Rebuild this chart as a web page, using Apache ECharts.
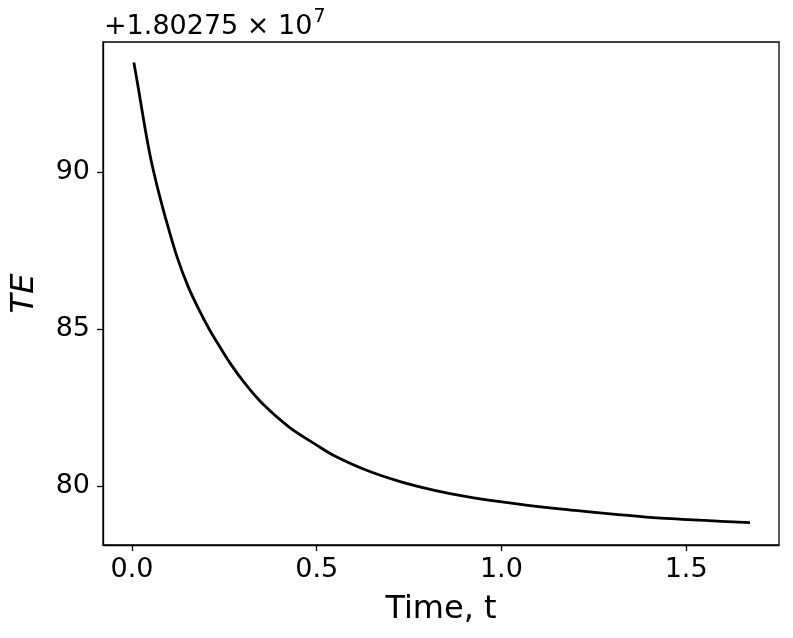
<!DOCTYPE html>
<html>
<head>
<meta charset="utf-8">
<script src="https://cdn.jsdelivr.net/npm/echarts@6/dist/echarts.min.js"></script>
<style>
html,body{margin:0;padding:0;background:#fff;}
#chart{width:793px;height:638px;}
</style>
</head>
<body>
<div id="chart"></div>
<script>
// Time values
var timeT = [0.005, 0.017, 0.028, 0.040, 0.053, 0.067, 0.079, 0.094, 0.121, 0.152, 0.184, 0.211, 0.229, 0.265, 0.31, 0.355, 0.428, 0.50, 0.545, 0.635, 0.726, 0.816, 0.906, 0.996, 1.132, 1.267, 1.402, 1.538, 1.673];
// TE values minus offset 1.80275e7
var teOffsetValues = [93.49, 92.68, 91.90, 91.08, 90.30, 89.60, 89.05, 88.40, 87.33, 86.35, 85.55, 84.95, 84.60, 83.92, 83.20, 82.60, 81.85, 81.30, 80.98, 80.50, 80.14, 79.87, 79.66, 79.50, 79.30, 79.14, 79.00, 78.91, 78.83];
var xTicks = [0.0, 0.5, 1.0, 1.5];
var yTicks = [80, 85, 90];
var offsetLabel = '+1.80275';

var chart = echarts.init(document.getElementById('chart'), null, {renderer: 'canvas'});
var font = 'DejaVu Sans';
var data = timeT.map(function (t, i) { return [t, teOffsetValues[i]]; });

chart.setOption({
  animation: false,
  backgroundColor: '#fff',
  grid: {left: 103, top: 42, right: 14, bottom: 93, containLabel: false, outerBoundsMode: 'none', show: true, borderColor: '#000', borderWidth: 1.3, backgroundColor: 'transparent'},
  xAxis: {
    type: 'value', min: -0.0785, max: 1.7515,
    name: 'Time, t', nameLocation: 'middle', nameGap: 49,
    nameTextStyle: {fontFamily: font, fontSize: 32, color: '#000'},
    axisLine: {show: true, onZero: false, lineStyle: {color: '#000', width: 1.3}},
    axisTick: {show: true, inside: false, length: 6, lineStyle: {color: '#000', width: 1.3}, customValues: xTicks},
    axisLabel: {fontFamily: font, fontSize: 27, color: '#000', margin: 11, customValues: xTicks,
      formatter: function (v) { return v.toFixed(1); }},
    splitLine: {show: false}
  },
  yAxis: {
    type: 'value', min: 78.12, max: 94.14,
    name: 'TE', nameLocation: 'middle', nameGap: 62, nameRotate: 90,
    nameTextStyle: {fontFamily: font, fontSize: 32, color: '#000', fontStyle: 'italic'},
    axisLine: {show: true, onZero: false, lineStyle: {color: '#000', width: 1.3}},
    axisTick: {show: true, inside: false, length: 6, lineStyle: {color: '#000', width: 1.3}, customValues: yTicks},
    axisLabel: {fontFamily: font, fontSize: 27, color: '#000', margin: 13, customValues: yTicks,
      formatter: function (v) { return String(Math.round(v)); }},
    splitLine: {show: false}
  },
  graphic: [{
    type: 'text', left: 104, top: 8,
    style: {
      text: '{a|' + offsetLabel + ' × 10}{s|7}',
      rich: {
        a: {fontFamily: font, fontSize: 27, fill: '#000', verticalAlign: 'bottom', lineHeight: 32},
        s: {fontFamily: font, fontSize: 19, fill: '#000', verticalAlign: 'top', lineHeight: 20, padding: [0,0,14,1]}
      }
    }
  }],
  series: [{
    type: 'line', data: data, showSymbol: false, smooth: 0.3,
    lineStyle: {color: '#000', width: 2.8}, clip: false
  }]
});
</script>
</body>
</html>
